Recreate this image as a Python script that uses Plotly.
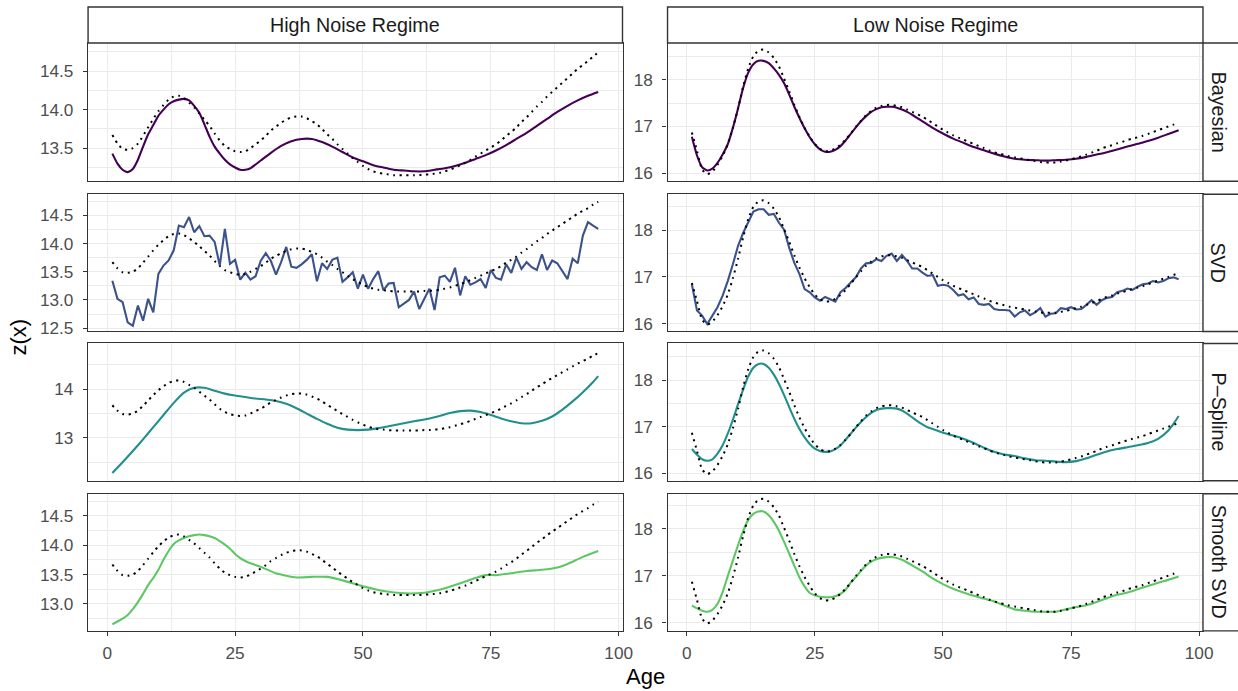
import plotly.graph_objects as go

# ---------------- data ----------------
ages = list(range(1, 97))

true_high = [13.67, 13.56, 13.49, 13.48, 13.50, 13.56, 13.66, 13.77, 13.88, 13.98,
             14.06, 14.13, 14.17, 14.18, 14.15, 14.09, 14.03, 13.95, 13.87, 13.79,
             13.69, 13.60, 13.53, 13.49, 13.46, 13.45, 13.46, 13.50, 13.55, 13.60,
             13.66, 13.73, 13.78, 13.83, 13.87, 13.90, 13.91, 13.91, 13.89, 13.85,
             13.81, 13.75, 13.68, 13.62, 13.55, 13.49, 13.43, 13.37, 13.32, 13.27,
             13.23, 13.20, 13.18, 13.17, 13.16, 13.15, 13.15, 13.15, 13.15, 13.15,
             13.15, 13.16, 13.16, 13.17, 13.18, 13.20, 13.22, 13.25, 13.28, 13.31,
             13.35, 13.39, 13.43, 13.47, 13.51, 13.55, 13.60, 13.66, 13.71, 13.77,
             13.84, 13.90, 13.97, 14.04, 14.10, 14.17, 14.23, 14.29, 14.35, 14.41,
             14.47, 14.53, 14.58, 14.63, 14.69, 14.74]

true_low = [16.87, 16.48, 16.08, 15.98, 16.04, 16.18, 16.37, 16.62, 16.97, 17.38,
            17.85, 18.24, 18.50, 18.62, 18.64, 18.58, 18.46, 18.28, 18.02, 17.75,
            17.46, 17.20, 16.97, 16.78, 16.62, 16.52, 16.47, 16.48, 16.53, 16.61,
            16.72, 16.85, 16.99, 17.12, 17.24, 17.33, 17.40, 17.44, 17.46, 17.46,
            17.44, 17.41, 17.36, 17.31, 17.26, 17.21, 17.14, 17.07, 17.00, 16.93,
            16.87, 16.81, 16.76, 16.72, 16.67, 16.63, 16.58, 16.54, 16.49, 16.45,
            16.42, 16.39, 16.36, 16.34, 16.32, 16.30, 16.28, 16.26, 16.24, 16.23,
            16.23, 16.23, 16.25, 16.27, 16.30, 16.33, 16.36, 16.40, 16.44, 16.48,
            16.53, 16.57, 16.60, 16.64, 16.67, 16.71, 16.74, 16.77, 16.80, 16.84,
            16.88, 16.92, 16.96, 17.00, 17.04, 17.08]

svd_high = [13.34, 13.02, 12.96, 12.60, 12.54, 12.90, 12.63, 13.02, 12.78, 13.46,
            13.61, 13.70, 13.88, 14.32, 14.29, 14.47, 14.20, 14.31, 14.13, 14.14,
            14.03, 13.61, 14.26, 13.64, 13.71, 13.36, 13.48, 13.36, 13.42, 13.69,
            13.83, 13.69, 13.45, 13.67, 13.94, 13.59, 13.57, 13.63, 13.71, 13.81,
            13.33, 13.65, 13.55, 13.71, 13.75, 13.32, 13.40, 13.49, 13.20, 13.45,
            13.20, 13.37, 13.51, 13.17, 13.29, 13.30, 12.87, 12.94, 13.00, 13.15,
            12.84, 13.02, 13.20, 12.82, 13.40, 13.43, 13.32, 13.57, 13.08, 13.42,
            13.27, 13.31, 13.37, 13.21, 13.53, 13.39, 13.36, 13.63, 13.48, 13.75,
            13.55, 13.67, 13.58, 13.53, 13.81, 13.53, 13.70, 13.65, 13.51, 13.37,
            13.73, 13.65, 14.14, 14.38, 14.32, 14.26]

svd_low = [16.84, 16.28, 16.17, 15.99, 16.17, 16.35, 16.60, 16.91, 17.27, 17.66,
           17.94, 18.16, 18.40, 18.45, 18.45, 18.33, 18.35, 18.16, 18.01, 17.62,
           17.30, 17.06, 16.74, 16.67, 16.56, 16.49, 16.57, 16.52, 16.47, 16.67,
           16.76, 16.88, 16.99, 17.18, 17.29, 17.30, 17.38, 17.34, 17.45, 17.50,
           17.34, 17.47, 17.34, 17.18, 17.18, 17.09, 17.02, 17.04, 16.81, 16.83,
           16.81, 16.72, 16.60, 16.63, 16.52, 16.56, 16.42, 16.40, 16.42, 16.31,
           16.29, 16.29, 16.28, 16.15, 16.24, 16.28, 16.18, 16.24, 16.33, 16.15,
           16.21, 16.22, 16.33, 16.31, 16.35, 16.30, 16.31, 16.40, 16.50, 16.40,
           16.50, 16.55, 16.57, 16.67, 16.70, 16.75, 16.72, 16.79, 16.84, 16.86,
           16.91, 16.88, 16.91, 16.97, 16.99, 16.95]

bayes_high_age = [1, 2, 3, 4, 5, 6, 7, 8, 9, 10, 11, 12, 13, 14, 15, 16, 17, 18, 19, 20,
                  21, 22, 23, 24, 25, 26, 27, 28, 30, 32, 34, 36, 38, 40, 42, 44, 46, 48,
                  50, 52, 54, 56, 58, 60, 62, 64, 66, 68, 70, 72, 74, 76, 78, 80, 82, 84,
                  86, 88, 90, 92, 94, 96]
bayes_high = [13.43, 13.30, 13.22, 13.19, 13.23, 13.35, 13.52, 13.68, 13.80, 13.92,
              14.00, 14.07, 14.11, 14.13, 14.14, 14.12, 14.05, 13.96, 13.81, 13.65,
              13.52, 13.43, 13.35, 13.29, 13.25, 13.22, 13.22, 13.24, 13.34, 13.44,
              13.53, 13.59, 13.62, 13.62, 13.58, 13.52, 13.45, 13.38, 13.33, 13.28,
              13.25, 13.22, 13.21, 13.20, 13.20, 13.22, 13.24, 13.27, 13.31, 13.36,
              13.41, 13.47, 13.54, 13.62, 13.70, 13.79, 13.88, 13.97, 14.05, 14.12,
              14.18, 14.23]

bayes_low_age = list(range(1, 49)) + list(range(50, 97, 2))
bayes_low = [16.78, 16.38, 16.13, 16.06, 16.10, 16.22, 16.40, 16.62, 16.97, 17.38,
             17.82, 18.15, 18.33, 18.40, 18.40, 18.35, 18.24, 18.10, 17.92, 17.68,
             17.42, 17.18, 16.96, 16.77, 16.62, 16.51, 16.46, 16.46, 16.50, 16.58,
             16.70, 16.84, 16.98, 17.11, 17.22, 17.31, 17.37, 17.41, 17.42, 17.42,
             17.40, 17.36, 17.31, 17.25, 17.18, 17.11, 17.04, 16.97,
             16.85, 16.74, 16.65, 16.56, 16.49, 16.42, 16.36, 16.31, 16.29, 16.28,
             16.27, 16.28, 16.29, 16.31, 16.35, 16.40, 16.45, 16.51, 16.57, 16.63,
             16.69, 16.76, 16.84, 16.92]

pspline_high_age = [1, 3, 5, 7, 9, 11, 13, 15, 17, 19, 21, 23, 25, 27, 29, 31, 33, 35, 37,
                    39, 41, 43, 45, 47, 49, 51, 53, 55, 57, 59, 61, 63, 65, 67, 69, 71, 73,
                    75, 77, 79, 81, 83, 85, 87, 89, 91, 93, 95, 96]
pspline_high = [12.28, 12.50, 12.73, 12.97, 13.22, 13.47, 13.72, 13.93, 14.03, 14.03,
                13.97, 13.91, 13.87, 13.84, 13.81, 13.79, 13.76, 13.70, 13.61, 13.50,
                13.39, 13.29, 13.21, 13.17, 13.16, 13.17, 13.20, 13.24, 13.28, 13.32,
                13.36, 13.40, 13.45, 13.51, 13.55, 13.56, 13.53, 13.47, 13.40, 13.34,
                13.30, 13.30, 13.35, 13.44, 13.58, 13.75, 13.94, 14.15, 14.27]

pspline_low_age = list(range(1, 49)) + list(range(50, 93, 2)) + [94, 95, 96]
pspline_low = [16.52, 16.40, 16.30, 16.27, 16.30, 16.42, 16.60, 16.85, 17.15, 17.48,
               17.80, 18.08, 18.27, 18.35, 18.35, 18.27, 18.12, 17.92, 17.68, 17.42,
               17.17, 16.95, 16.77, 16.63, 16.53, 16.48, 16.46, 16.47, 16.52, 16.60,
               16.72, 16.85, 16.98, 17.10, 17.21, 17.30, 17.36, 17.39, 17.40, 17.40,
               17.39, 17.35, 17.28, 17.20, 17.12, 17.05, 16.99, 16.95,
               16.87, 16.81, 16.74, 16.65, 16.55, 16.46, 16.40, 16.37, 16.32, 16.28,
               16.27, 16.25, 16.24, 16.26, 16.32, 16.40, 16.47, 16.52, 16.56, 16.60,
               16.65, 16.74, 16.92, 17.06, 17.23]

ssvd_high_age = [1, 2, 3, 4, 5, 6, 7, 8, 9, 10, 11, 12, 13, 14, 15, 16, 17, 18, 19, 20,
                 21, 22, 23, 24, 25, 26, 27, 28, 30, 33, 37, 40, 43, 46, 50, 54, 58, 62,
                 65, 69, 72, 74, 76, 79, 82, 85, 88, 90, 93, 96]
ssvd_high = [12.65, 12.70, 12.75, 12.81, 12.91, 13.03, 13.17, 13.32, 13.44, 13.58,
             13.75, 13.90, 14.02, 14.08, 14.12, 14.15, 14.17, 14.18, 14.17, 14.15,
             14.12, 14.07, 14.01, 13.94, 13.85, 13.78, 13.73, 13.69, 13.63, 13.52,
             13.45, 13.46, 13.46, 13.40, 13.30, 13.22, 13.18, 13.19, 13.24, 13.35,
             13.44, 13.49, 13.49, 13.52, 13.56, 13.58, 13.62, 13.68, 13.80, 13.90]

ssvd_low_age = list(range(1, 39)) + list(range(40, 97, 2))
ssvd_low = [16.36, 16.30, 16.25, 16.23, 16.27, 16.40, 16.65, 16.99, 17.32, 17.65,
            17.95, 18.19, 18.32, 18.37, 18.37, 18.29, 18.15, 17.96, 17.72, 17.47,
            17.21, 16.96, 16.77, 16.63, 16.58, 16.55, 16.54, 16.54, 16.56, 16.61,
            16.70, 16.85, 16.97, 17.10, 17.22, 17.30, 17.35, 17.38,
            17.40, 17.34, 17.22, 17.09, 16.94, 16.82, 16.72, 16.64, 16.57, 16.51,
            16.45, 16.36, 16.28, 16.25, 16.23, 16.23, 16.23, 16.28, 16.33, 16.37,
            16.44, 16.52, 16.59, 16.64, 16.71, 16.78, 16.85, 16.91, 16.98]

methods = ["Bayesian", "SVD", "P\u2013Spline", "Smooth SVD"]
regimes = ["High Noise Regime", "Low Noise Regime"]
colors = ["#440154", "#3B528B", "#21908C", "#5DC863"]

fits = {
    (0, 0): (bayes_high_age, bayes_high, "spline"),
    (0, 1): (bayes_low_age, bayes_low, "spline"),
    (1, 0): (ages, svd_high, "linear"),
    (1, 1): (ages, svd_low, "linear"),
    (2, 0): (pspline_high_age, pspline_high, "spline"),
    (2, 1): (pspline_low_age, pspline_low, "spline"),
    (3, 0): (ssvd_high_age, ssvd_high, "spline"),
    (3, 1): (ssvd_low_age, ssvd_low, "spline"),
}
truths = [true_high, true_low]

y_ranges = {
    (0, 0): [13.071, 14.864], (1, 0): [12.44, 14.874],
    (2, 0): [12.12, 14.94], (3, 0): [12.54, 14.875],
    (0, 1): [15.83, 18.78], (1, 1): [15.83, 18.77],
    (2, 1): [15.84, 18.79], (3, 1): [15.82, 18.75],
}
y_dtick = {(0, 0): 0.5, (1, 0): 0.5, (2, 0): 1, (3, 0): 0.5,
           (0, 1): 1, (1, 1): 1, (2, 1): 1, (3, 1): 1}

# ---------------- layout geometry ----------------
# positions are given in pixels of the 1238x691 target picture and turned into
# paper fractions; the figure itself fills the whole browser page.
REF_W, REF_H = 1238, 691
W, H = 1249, 699
col_px = [(88, 622), (667, 1202)]
row_px = [(43, 181), (194, 331), (343, 480), (493, 630)]
strip_top = (7, 43)
strip_right = (1202, 1250)


def px_x(v):
    return v / REF_W


def px_y(v):
    return 1 - v / REF_H


BORDER = "#333333"
GRID = "#EBEBEB"
TICKTXT = "#4D4D4D"
FONT = "Liberation Sans, Arial, Helvetica, sans-serif"
TICK_SIZE = 17.2
STRIP_SIZE = 19.7
TITLE_SIZE = 22

fig = go.Figure()
layout = dict(
    width=W, height=H, margin=dict(l=0, r=0, t=0, b=0),
    paper_bgcolor="white", plot_bgcolor="white",
    showlegend=False, font=dict(family=FONT, size=TICK_SIZE, color=TICKTXT),
)

shapes = []
annotations = []

for r in range(4):
    for c in range(2):
        i = r * 2 + c + 1
        xa = "x" if i == 1 else f"x{i}"
        ya = "y" if i == 1 else f"y{i}"
        fx, fy, shape = fits[(r, c)]
        fig.add_trace(go.Scatter(
            x=fx, y=fy, mode="lines", xaxis=xa, yaxis=ya,
            line=dict(color=colors[r], width=2.1, shape=shape, smoothing=0.6),
            hoverinfo="skip"))
        fig.add_trace(go.Scatter(
            x=ages, y=truths[c], mode="lines", xaxis=xa, yaxis=ya,
            line=dict(color="black", width=2, dash="2px,4.6px", shape="spline", smoothing=0.6),
            hoverinfo="skip"))

        bottom = (r == 3)
        xkey = "xaxis" if i == 1 else f"xaxis{i}"
        ykey = "yaxis" if i == 1 else f"yaxis{i}"
        layout[xkey] = dict(
            domain=[px_x(col_px[c][0]), px_x(col_px[c][1])],
            anchor=ya, range=[-3.75, 100.75],
            tickmode="linear", tick0=0, dtick=25,
            showgrid=True, gridcolor=GRID, gridwidth=1.4,
            minor=dict(tick0=0, dtick=12.5, showgrid=True, gridcolor=GRID, gridwidth=0.7),
            showline=True, mirror=True, linecolor=BORDER, linewidth=1.4,
            zeroline=False,
            ticks="outside" if bottom else "", ticklen=4, tickwidth=1.2, tickcolor=BORDER,
            showticklabels=bottom, ticklabelstandoff=2,
            tickfont=dict(family=FONT, size=TICK_SIZE, color=TICKTXT),
        )
        d = y_dtick[(r, c)]
        layout[ykey] = dict(
            domain=[px_y(row_px[r][1]), px_y(row_px[r][0])],
            anchor=xa, range=y_ranges[(r, c)],
            tickmode="linear", tick0=0, dtick=d,
            tickformat=".1f" if d == 0.5 else ".0f",
            showgrid=True, gridcolor=GRID, gridwidth=1.4,
            minor=dict(tick0=0, dtick=d / 2, showgrid=True, gridcolor=GRID, gridwidth=0.7),
            showline=True, mirror=True, linecolor=BORDER, linewidth=1.4,
            zeroline=False,
            ticks="outside", ticklen=4, tickwidth=1.2, tickcolor=BORDER,
            ticklabelstandoff=6,
            tickfont=dict(family=FONT, size=TICK_SIZE, color=TICKTXT),
        )

# top strips
for c in range(2):
    x0, x1 = col_px[c]
    shapes.append(dict(type="rect", xref="paper", yref="paper",
                       x0=px_x(x0), x1=px_x(x1), y0=px_y(strip_top[1]), y1=px_y(strip_top[0]),
                       fillcolor="white", line=dict(color=BORDER, width=1.4)))
    annotations.append(dict(xref="paper", yref="paper",
                            x=px_x((x0 + x1) / 2), y=px_y(25),
                            text=regimes[c], showarrow=False,
                            font=dict(family=FONT, size=STRIP_SIZE, color="#1A1A1A"),
                            xanchor="center", yanchor="middle"))
# right strips
for r in range(4):
    y0, y1 = row_px[r]
    shapes.append(dict(type="rect", xref="paper", yref="paper",
                       x0=px_x(strip_right[0]), x1=px_x(strip_right[1]),
                       y0=px_y(y1), y1=px_y(y0),
                       fillcolor="white", line=dict(color=BORDER, width=1.4)))
    annotations.append(dict(xref="paper", yref="paper",
                            x=px_x(1217.5),
                            y=px_y((y0 + y1) / 2),
                            text=methods[r], showarrow=False, textangle=90,
                            font=dict(family=FONT, size=STRIP_SIZE, color="#1A1A1A"),
                            xanchor="center", yanchor="middle"))

# axis titles
annotations.append(dict(xref="paper", yref="paper", x=px_x(645), y=px_y(676),
                        text="Age", showarrow=False,
                        font=dict(family=FONT, size=TITLE_SIZE, color="black"),
                        xanchor="center", yanchor="middle"))
annotations.append(dict(xref="paper", yref="paper", x=px_x(18), y=px_y(337),
                        text="z(x)", showarrow=False, textangle=-90,
                        font=dict(family=FONT, size=TITLE_SIZE, color="black"),
                        xanchor="center", yanchor="middle"))

layout["shapes"] = shapes
layout["annotations"] = annotations
fig.update_layout(**layout)

# drop the browser's default body margin so the figure starts at the page corner
fig.write_html("out.html", config={"displayModeBar": False},
               post_script="document.body.style.margin='0';"
                           "document.body.style.overflow='hidden';")
